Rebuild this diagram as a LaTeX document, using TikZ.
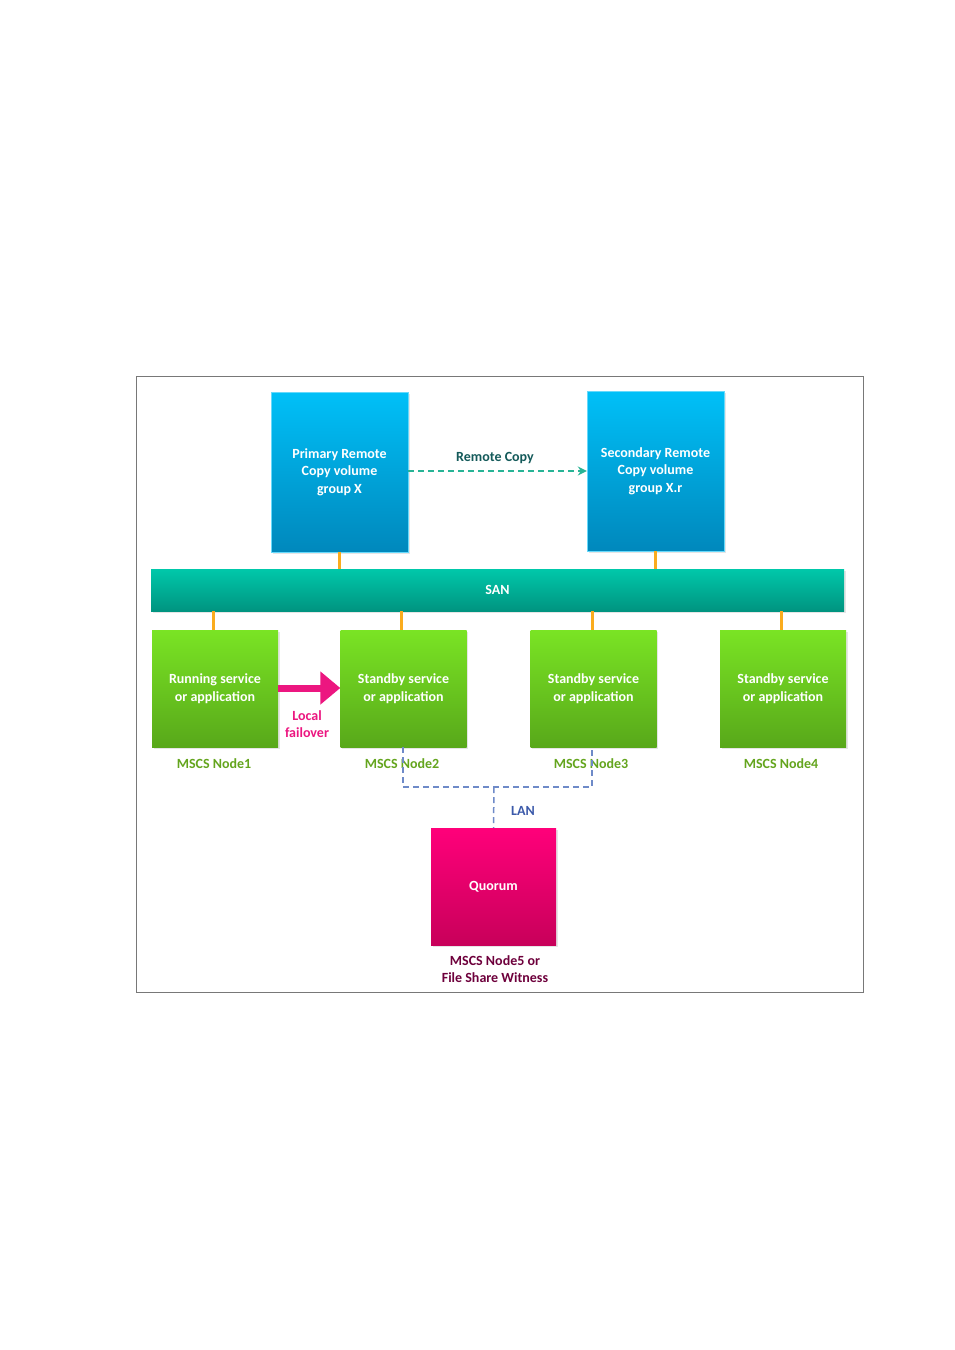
\documentclass[tikz,border=0pt]{standalone}
\usepackage{fontspec}
\setmainfont{Carlito}
\usetikzlibrary{arrows.meta,shadows}
\definecolor{frameC}{RGB}{120,120,120}
\definecolor{blueT}{RGB}{0,192,248}
\definecolor{blueB}{RGB}{0,136,188}
\definecolor{sanT}{RGB}{0,200,170}
\definecolor{sanB}{RGB}{0,148,128}
\definecolor{greenT}{RGB}{122,228,36}
\definecolor{greenB}{RGB}{88,168,26}
\definecolor{pinkT}{RGB}{255,0,122}
\definecolor{pinkB}{RGB}{200,0,90}
\definecolor{orangeC}{RGB}{250,172,30}
\definecolor{tealC}{RGB}{40,180,150}
\definecolor{tealTxt}{RGB}{20,90,90}
\definecolor{greenTxt}{RGB}{100,165,30}
\definecolor{pinkC}{RGB}{236,22,128}
\definecolor{lanC}{RGB}{110,138,200}
\definecolor{lanTxt}{RGB}{60,90,170}
\definecolor{maroonTxt}{RGB}{110,0,60}
\tikzset{
  box/.style={rectangle, inner sep=0pt, align=center, text=white,
    font=\fontsize{14}{17.5}\selectfont\bfseries,
    drop shadow={shadow xshift=1.5pt, shadow yshift=-2pt, opacity=0.2}},
  bluebox/.style={box, minimum width=137pt, minimum height=160pt, shading=axis, top color=blueT, bottom color=blueB, draw=blueT!60!white, line width=0.4pt},
  greenbox/.style={box, minimum width=126pt, minimum height=117pt, shading=axis, top color=greenT, bottom color=greenB},
  pinkbox/.style={box, minimum width=125pt, minimum height=117pt, shading=axis, top color=pinkT, bottom color=pinkB},
  sanbar/.style={box, minimum width=693pt, minimum height=42pt, shading=axis, top color=sanT, bottom color=sanB},
  lbl/.style={inner sep=0pt, align=center, font=\fontsize{14}{17.5}\selectfont\bfseries},
  orange/.style={draw=orangeC, line width=3pt},
  lan/.style={draw=lanC, line width=1.5pt, dash pattern=on 6pt off 4pt},
}
\begin{document}
\begin{tikzpicture}[x=1pt,y=-1pt]
\useasboundingbox (0,0) rectangle (955,1350);
\fill[white] (0,0) rectangle (955,1350);
\node[draw=frameC, line width=0.8pt, minimum width=727pt, minimum height=616pt, inner sep=0pt] (frame) at (499.5,684) {};
% top boxes
\node[bluebox] (prim) at (339.5,472) {Primary Remote\\Copy volume\\group X};
\node[bluebox] (sec) at (655.5,471) {Secondary Remote\\Copy volume\\group X.r};
\node[sanbar] (san) at (497.5,590) {SAN};
% nodes
\node[greenbox] (n1) at (215,688.5) {Running service\\or application};
\node[greenbox] (n2) at (403.5,688.5) {Standby service\\or application};
\node[greenbox] (n3) at (593.5,688.5) {Standby service\\or application};
\node[greenbox] (n4) at (783,688.5) {Standby service\\or application};
\node[pinkbox] (q) at (493.5,886.5) {Quorum};
% connectors orange
\draw[orange] (prim.south) -- (prim.south |- san.north);
\draw[orange] (sec.south) -- (sec.south |- san.north);
\draw[orange] (213,0 |- n1.north) -- (213,0 |- san.south);
\draw[orange] (401,0 |- n2.north) -- (401,0 |- san.south);
\draw[orange] (592,0 |- n3.north) -- (592,0 |- san.south);
\draw[orange] (781,0 |- n4.north) -- (781,0 |- san.south);
% remote copy
\draw[tealC, line width=1.5pt, dash pattern=on 6pt off 4pt, -{Stealth[length=9pt,width=9pt,inset=3pt]}] (prim.east |- 0,471) -- (sec.west |- 0,471);
\node[lbl, text=tealTxt] (rc) at (495,458) {Remote Copy};
% labels
\node[lbl, text=greenTxt] (l1) at (214,764) {MSCS Node1};
\node[lbl, text=greenTxt] (l2) at (402,764) {MSCS Node2};
\node[lbl, text=greenTxt] (l3) at (591,764) {MSCS Node3};
\node[lbl, text=greenTxt] (l4) at (781,764) {MSCS Node4};
% local failover
\draw[pinkC, line width=7pt, -{Triangle[length=20pt,width=32pt]}] (n1.east |- 0,688) -- (n2.west |- 0,688);
\node[lbl, text=pinkC] (lf) at (307,724) {Local\\failover};
% LAN
\coordinate (lanj) at (494,787);
\draw[lan] (403,0 |- n2.south) -- (403,0 |- lanj) -- (592,0 |- lanj) -- (592,0 |- n3.south);
\draw[lan] (lanj) -- (q.north);
\node[lbl, text=lanTxt] (lanl) at (523,811) {LAN};
\node[lbl, text=maroonTxt] (ql) at (495,969) {MSCS Node5 or\\File Share Witness};
\end{tikzpicture}
\end{document}
